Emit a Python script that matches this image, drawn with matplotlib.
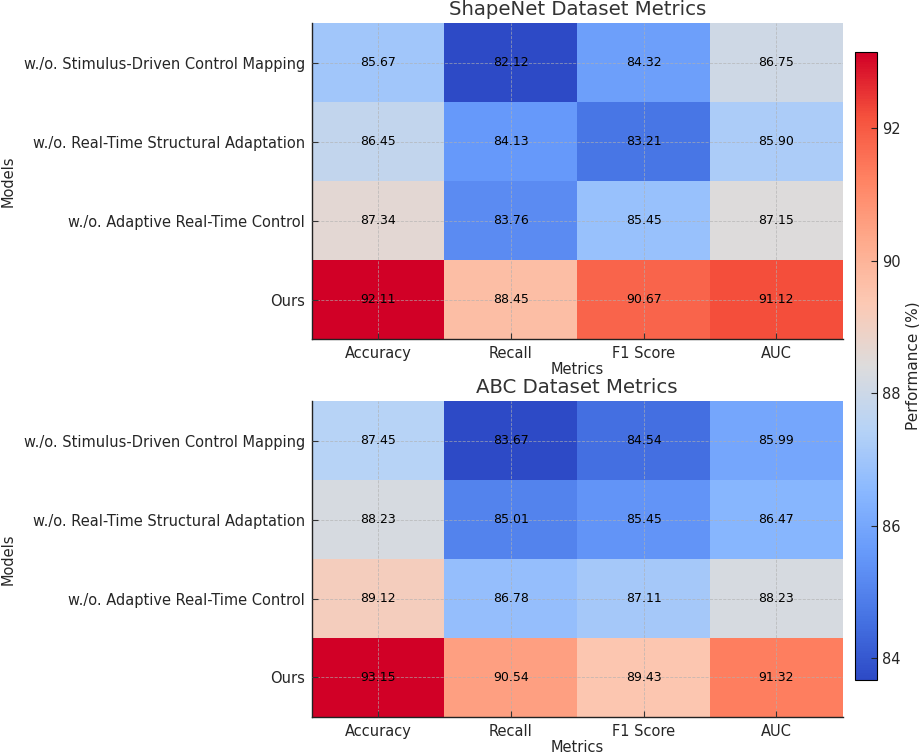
import matplotlib
matplotlib.use("Agg")
import matplotlib.pyplot as plt
from matplotlib.colors import LinearSegmentedColormap
import numpy as np

models = ["w./o. Stimulus-Driven Control Mapping",
          "w./o. Real-Time Structural Adaptation",
          "w./o. Adaptive Real-Time Control",
          "Ours"]
metrics = ["Accuracy", "Recall", "F1 Score", "AUC"]

shapenet_sdcm = [85.67, 82.12, 84.32, 86.75]
shapenet_rtsa = [86.45, 84.13, 83.21, 85.90]
shapenet_artc = [87.34, 83.76, 85.45, 87.15]
shapenet_ours = [92.11, 88.45, 90.67, 91.12]

abc_sdcm = [87.45, 83.67, 84.54, 85.99]
abc_rtsa = [88.23, 85.01, 85.45, 86.47]
abc_artc = [89.12, 86.78, 87.11, 88.23]
abc_ours = [93.15, 90.54, 89.43, 91.32]

titles = ["ShapeNet Dataset Metrics", "ABC Dataset Metrics"]

datasets = [np.array([shapenet_sdcm, shapenet_rtsa, shapenet_artc, shapenet_ours]),
            np.array([abc_sdcm, abc_rtsa, abc_artc, abc_ours])]

# vivid coolwarm-like colormap
cmap_colors = ["#2d4ac6", "#4774e4", "#6699fa", "#8ab8ff", "#b7d3f6", "#dddcdc",
               "#fcc9b4", "#feaa8c", "#ff8262", "#f5503c", "#d10026"]
cmap = LinearSegmentedColormap.from_list("vivid_coolwarm", cmap_colors)

plt.rcParams['font.family'] = ['DejaVu Sans']
fig = plt.figure(figsize=(9.2, 7.54), dpi=100)

positions = [[0.339, 0.5504, 0.577, 0.419], [0.339, 0.0491, 0.577, 0.419]]
txt = '#262626'
im = None
for pos, data, title in zip(positions, datasets, titles):
    ax = fig.add_axes(pos)
    im = ax.imshow(data, cmap=cmap, aspect='auto')
    ax.set_xticks(range(len(metrics)))
    ax.set_xticklabels(metrics, fontsize=10.5, color=txt)
    ax.set_yticks(range(len(models)))
    ax.set_yticklabels(models, fontsize=10.5, color=txt)
    ax.set_xlabel("Metrics", fontsize=10.5, color=txt, labelpad=1)
    ax.set_ylabel("Models", fontsize=10.5, color=txt, labelpad=6)
    ax.set_title(title, fontsize=14.2, color='#333333', pad=5.5)
    ax.tick_params(direction='in', length=4, width=0.8, color='#333333', pad=5)
    for s in ['top', 'right']:
        ax.spines[s].set_visible(False)
    for s in ['left', 'bottom']:
        ax.spines[s].set_linewidth(1.0)
        ax.spines[s].set_color('#222222')
    ax.grid(True, linestyle='--', color='#b0b0b0', linewidth=0.6, alpha=0.7)
    ax.set_axisbelow(False)
    for i in range(data.shape[0]):
        for j in range(data.shape[1]):
            ax.text(j, i, f"{data[i, j]:.2f}", ha='center', va='center',
                    fontsize=9, color='black')

cax = fig.add_axes([0.929, 0.098, 0.024, 0.833])
cb = fig.colorbar(im, cax=cax)
cb.set_label("Performance (%)", fontsize=11, color=txt, labelpad=3)
cb.ax.tick_params(labelsize=10.5, colors=txt, direction='in', length=4, pad=4)
cb.outline.set_linewidth(0.8)

fig.savefig("out.png", dpi=100)
